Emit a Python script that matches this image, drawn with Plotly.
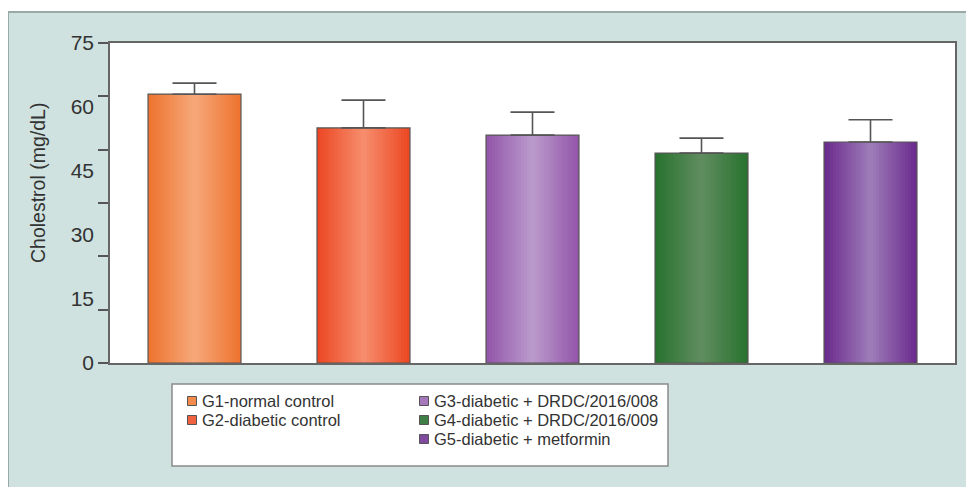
import plotly.graph_objects as go

# ---------------- data ----------------
groups = ["G1-normal control", "G2-diabetic control", "G3-diabetic + DRDC/2016/008",
          "G4-diabetic + DRDC/2016/009", "G5-diabetic + metformin"]
cholesterol = [63.0, 55.1, 53.4, 49.2, 51.8]
sem = [2.6, 6.5, 5.4, 3.5, 5.2]
y_tick_values = [0, 15, 30, 45, 60, 75]
y_tick_labels = ["0", "15", "30", "45", "60", "75"]

# ---------------- style ----------------
edge_colors = ["#ee7430", "#ec4824", "#9457aa", "#29732f", "#6c2c8e"]
center_colors = ["#f6a778", "#f68c6c", "#b999cb", "#5f8c5f", "#9c7bb7"]
swatch_colors = ["#f28a4c", "#ef6240", "#a677ba", "#3f7e44", "#7e4aa0"]
legend_col = [0, 0, 1, 1, 1]
legend_row = [0, 1, 0, 1, 2]

FONT = "Liberation Sans, Arial, sans-serif"
OFF = 8  # page body margin
W, H = 974 - OFF, 487 - OFF
# plot area in page pixels
L, R, T, B = 110, 955, 43, 363


def px_x(x):
    return (x - L) / (R - L)


def px_y(y):
    return (B - y) / (B - T)


def hex2rgb(h):
    h = h.lstrip("#")
    return [int(h[i:i + 2], 16) for i in (0, 2, 4)]


def mix(c1, c2, t):
    a, b = hex2rgb(c1), hex2rgb(c2)
    return "rgb(%d,%d,%d)" % tuple(round(a[i] + (b[i] - a[i]) * t) for i in range(3))


BAR_W = 0.55
N_LAYERS = 16

fig = go.Figure()

# gradient bars: overlay of progressively narrower, lighter bars
for k in range(N_LAYERS):
    t = k / (N_LAYERS - 1)
    fig.add_trace(go.Bar(
        x=groups, y=cholesterol,
        width=BAR_W * (1 - k / N_LAYERS),
        marker=dict(color=[mix(e, c, t) for e, c in zip(edge_colors, center_colors)],
                    line=dict(width=0)),
        showlegend=False, hoverinfo="skip",
    ))

# outline + error bars on top
fig.add_trace(go.Bar(
    x=groups, y=cholesterol, width=BAR_W,
    marker=dict(color="rgba(0,0,0,0)", line=dict(color="#555555", width=1.2)),
    error_y=dict(type="data", array=sem, arrayminus=[0] * len(sem), symmetric=False,
                 color="#555555", thickness=1.6, width=22),
    showlegend=False,
))

shapes = [
    # outer teal panel
    dict(type="rect", xref="paper", yref="paper", x0=px_x(8), x1=px_x(1000),
         y0=px_y(520), y1=px_y(12), fillcolor="#cfe2df",
         line=dict(color="#9aa8a6", width=2), layer="below"),
    # white plotting area
    dict(type="rect", xref="paper", yref="paper", x0=0, x1=1, y0=0, y1=1,
         fillcolor="white", line=dict(width=0), layer="below"),
    # legend box
    dict(type="rect", xref="paper", yref="paper", x0=px_x(172), x1=px_x(668),
         y0=px_y(466), y1=px_y(384), fillcolor="white",
         line=dict(color="#8a8a8a", width=1.5), layer="below"),
]

annotations = [
    dict(text="Cholestrol (mg/dL)", xref="paper", yref="paper",
         x=px_x(38), y=px_y(183), textangle=-90, showarrow=False,
         font=dict(family=FONT, size=19.5, color="#333333"),
         xanchor="center", yanchor="middle"),
]

col_sw_x = [192, 424]
col_tx_x = [201, 433]
row_y = [401, 420, 439]
for i, name in enumerate(groups):
    cx = col_sw_x[legend_col[i]]
    cy = row_y[legend_row[i]]
    shapes.append(dict(type="rect", xref="paper", yref="paper",
                       x0=px_x(cx - 4.5), x1=px_x(cx + 4.5),
                       y0=px_y(cy + 4.5), y1=px_y(cy - 4.5),
                       fillcolor=swatch_colors[i],
                       line=dict(color="#555555", width=1), layer="above"))
    annotations.append(dict(text=name, xref="paper", yref="paper",
                            x=px_x(col_tx_x[legend_col[i]]), y=px_y(cy),
                            xanchor="left", yanchor="middle", showarrow=False,
                            borderpad=0,
                            font=dict(family=FONT, size=16.5, color="#333333")))

fig.update_layout(
    width=W, height=H,
    margin=dict(l=L - OFF, r=974 - R, t=T - OFF, b=487 - B),
    paper_bgcolor="white", plot_bgcolor="rgba(0,0,0,0)",
    barmode="overlay",
    showlegend=False,
    shapes=shapes, annotations=annotations,
    font=dict(family=FONT, color="#333333"),
    xaxis=dict(showticklabels=False, ticks="", showgrid=False, zeroline=False,
               showline=True, linecolor="#666666", linewidth=1.5, mirror=True,
               range=[-0.5, 4.5]),
    yaxis=dict(range=[0, 75], tickvals=y_tick_values, ticktext=y_tick_labels,
               ticks="outside", ticklen=10, tickcolor="rgba(0,0,0,0)",
               tickfont=dict(family=FONT, size=21, color="#333333"),
               showgrid=False, zeroline=False,
               showline=True, linecolor="#666666", linewidth=1.5, mirror=True,
               minor=dict(ticks="outside", tick0=0, dtick=12.5, ticklen=10,
                          tickcolor="#555555", tickwidth=1.5, showgrid=False)),
)

fig.write_html("out.html")
